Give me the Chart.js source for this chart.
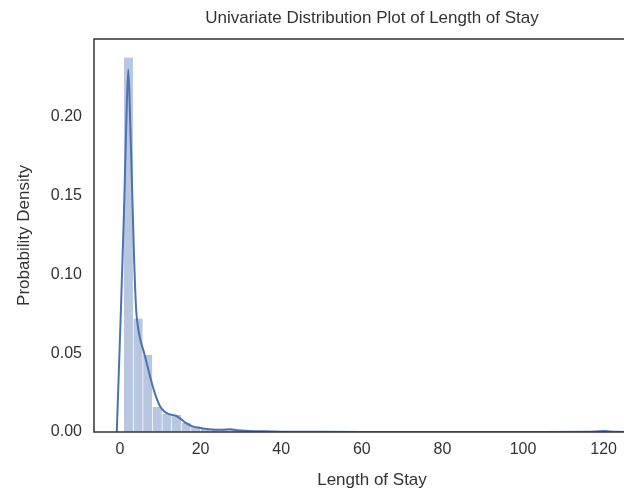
<!DOCTYPE html>
<html>
<head>
<meta charset="utf-8">
<script src="https://cdn.jsdelivr.net/npm/chart.js@4/dist/chart.umd.min.js"></script>
<style>
  html, body { margin: 0; padding: 0; background: #fff; overflow: hidden; }
  #wrap { width: 744px; height: 491px; position: relative; }
</style>
</head>
<body>
<div id="wrap"><canvas id="c"></canvas></div>
<script>
// Histogram bins (centres of 50 equal bins from 1 to 120, width 2.38)
const binCenters = [2.19, 4.57, 6.95, 9.33, 11.71, 14.09, 16.47, 18.85, 21.23, 23.61,
                    25.99, 28.37, 30.75, 33.13, 35.51, 37.89, 40.27, 42.65, 118.81];
const binDensity = [0.2375, 0.072, 0.049, 0.016, 0.0115, 0.011, 0.0057, 0.0035, 0.0025, 0.002,
                    0.0015, 0.0012, 0.0008, 0.0006, 0.0004, 0.0003, 0.0002, 0.0002, 0.0004];

// KDE curve
const kdeX = [-0.8, 0, 1, 1.5, 2.05, 2.5, 3, 3.5, 4, 4.5, 5, 6, 7, 8, 9, 10, 11, 12, 13, 13.7,
              15, 16, 17, 18, 20, 22, 25, 27.5, 29, 32, 36, 40, 50, 70, 100, 116, 120, 123, 127];
const kdeY = [0, 0.06, 0.14, 0.19, 0.23, 0.2, 0.155, 0.11, 0.078, 0.066, 0.059, 0.05, 0.04, 0.03,
              0.022, 0.016, 0.013, 0.0115, 0.0108, 0.0105, 0.0085, 0.0063, 0.0048, 0.0036, 0.0025,
              0.0018, 0.0014, 0.0017, 0.0011, 0.0007, 0.0004, 0.0002, 0.0001, 0.00005, 0.00003,
              0.0001, 0.0006, 0.0001, 0];

const xTickValues = [0, 20, 40, 60, 80, 100, 120];
const yTickValues = [0, 0.05, 0.10, 0.15, 0.20];

const titleText = 'Univariate Distribution Plot of Length of Stay';
const xTitle = 'Length of Stay';
const yTitle = 'Probability Density';

const textColor = '#333333';
const frameColor = '#333333';
const fontFamily = '"Liberation Sans", Arial, Helvetica, sans-serif';

const framePlugin = {
  id: 'frame',
  afterDatasetsDraw(chart) {
    const {ctx, chartArea: a} = chart;
    ctx.save();
    ctx.strokeStyle = frameColor;
    ctx.lineWidth = 1.5;
    ctx.strokeRect(a.left, a.top, a.right - a.left, a.bottom - a.top);
    ctx.restore();
  }
};

new Chart(document.getElementById('c'), {
  type: 'bar',
  data: {
    datasets: [
      {
        type: 'line',
        data: kdeX.map((x, i) => ({x: x, y: kdeY[i]})),
        borderColor: '#4c72b0',
        borderWidth: 2,
        pointRadius: 0,
        fill: false,
        cubicInterpolationMode: 'monotone',
        order: 0
      },
      {
        type: 'bar',
        data: binCenters.map((x, i) => ({x: x, y: binDensity[i]})),
        backgroundColor: 'rgba(76,114,176,0.4)',
        borderColor: 'rgba(255,255,255,0.8)',
        borderWidth: {left: 0, right: 1, top: 0, bottom: 0},
        borderSkipped: false,
        barPercentage: 1,
        categoryPercentage: 1,
        order: 1
      }
    ]
  },
  options: {
    responsive: true,
    maintainAspectRatio: false,
    animation: false,
    layout: {padding: 0},
    plugins: {
      legend: {display: false},
      tooltip: {enabled: false},
      title: {
        display: true,
        text: titleText,
        color: textColor,
        font: {family: fontFamily, size: 17, weight: 'normal'},
        padding: {top: 7.8, bottom: 10.8}
      }
    },
    scales: {
      x: {
        type: 'linear',
        offset: false,
        min: -6.45,
        max: 131.5,
        grid: {display: false, drawTicks: false},
        border: {display: false},
        afterBuildTicks: (s) => { s.ticks = xTickValues.map(v => ({value: v})); },
        ticks: {
          autoSkip: false,
          maxRotation: 0,
          padding: 8,
          color: textColor,
          font: {family: fontFamily, size: 16},
          callback: (v) => String(v)
        },
        title: {
          display: true,
          text: xTitle,
          color: textColor,
          font: {family: fontFamily, size: 17},
          padding: {top: 11.4, bottom: 0}
        },
        afterFit: (s) => { s.height = 59; }
      },
      y: {
        type: 'linear',
        position: 'left',
        min: 0,
        max: 0.2493,
        grid: {display: false, drawTicks: false},
        border: {display: false},
        afterBuildTicks: (s) => { s.ticks = yTickValues.map(v => ({value: v})); },
        ticks: {
          autoSkip: false,
          padding: 12,
          color: textColor,
          font: {family: fontFamily, size: 16},
          callback: (v) => Number(v).toFixed(2)
        },
        title: {
          display: true,
          text: yTitle,
          color: textColor,
          font: {family: fontFamily, size: 17},
          padding: {top: 13.8, bottom: 0}
        },
        afterFit: (s) => { s.width = 94; }
      },
      y2: {
        type: 'linear',
        position: 'right',
        display: true,
        grid: {display: false, drawTicks: false},
        border: {display: false},
        ticks: {display: false},
        afterFit: (s) => { s.width = 94; }
      }
    }
  },
  plugins: [framePlugin]
});
</script>
</body>
</html>
